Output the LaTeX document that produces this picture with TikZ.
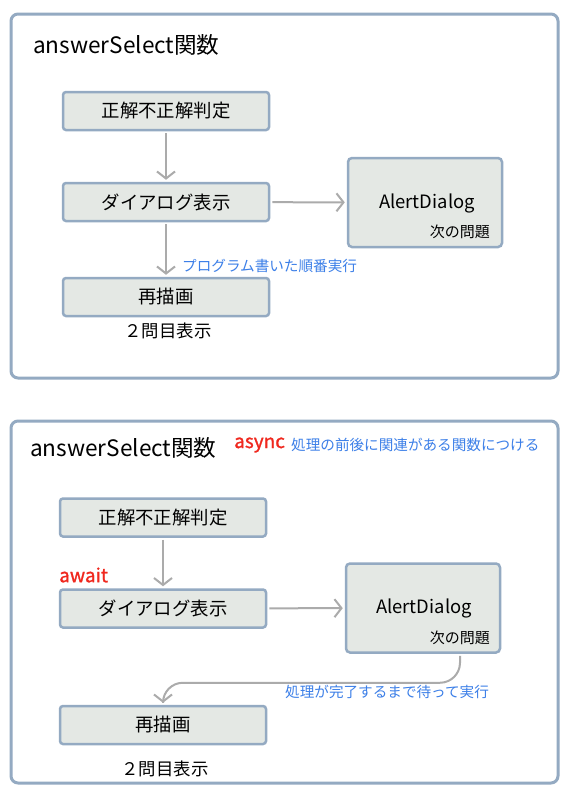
\documentclass[tikz,border=0pt]{standalone}
\usepackage{fontspec}
\setmainfont{Noto Sans CJK JP}
\newfontfamily\medfont[FakeBold=1.2]{Noto Sans CJK JP}
\usetikzlibrary{arrows.meta}
\definecolor{frameC}{HTML}{94AAC2}
\definecolor{boxF}{HTML}{E4E8E4}
\definecolor{arrC}{HTML}{ABABAB}
\definecolor{blueT}{HTML}{3C7FE8}
\definecolor{redT}{HTML}{F0281E}
\begin{document}
\begin{tikzpicture}[x=1pt,y=-1pt,
  frame/.style={draw=frameC,line width=3pt,rounded corners=7pt},
  stepbox/.style={draw=frameC,fill=boxF,line width=2.5pt,rounded corners=3pt,minimum width=206pt,minimum height=38pt,inner sep=0pt,font=\fontsize{18.4}{21}\selectfont},
  alertbox/.style={draw=frameC,fill=boxF,line width=2.5pt,rounded corners=4pt,minimum width=154pt,minimum height=89pt,inner sep=0pt},
  conn/.style={draw=arrC,line width=2pt,-{Straight Barb[length=7pt,width=18pt,line width=2pt]},shorten >=2pt,shorten <=2pt},
  title/.style={anchor=west,inner sep=0pt,font=\fontsize{22.6}{26}\selectfont},
  note/.style={anchor=west,inner sep=0pt,text=blueT,font=\fontsize{14.6}{17}\selectfont},
  redl/.style={anchor=west,inner sep=0pt,text=redT,font=\fontsize{19}{21}\medfont},
  plain/.style={inner sep=0pt,font=\fontsize{17.4}{20}\selectfont}]
\useasboundingbox (0,0) rectangle (574,796);
\fill[white] (0,0) rectangle (574,796);
% ---------- top panel ----------
\draw[frame] (11,14) rectangle (558,378);
\node[title] (t1) at (33,45) {answerSelect関数};
\node[stepbox] (a1) at (166,111) {正解不正解判定};
\node[stepbox] (a2) at (166,202) {ダイアログ表示};
\node[stepbox] (a3) at (166,297) {再描画};
\node[plain] (a4) at (168,331) {２問目表示};
\node[alertbox] (ad1) at (425,202.5) {};
\node[plain,font=\fontsize{18.4}{21}\selectfont] (ad1t) at (427,203) {AlertDialog};
\node[inner sep=0pt,anchor=east,font=\fontsize{15}{17}\selectfont] (ad1n) at (490,232) {次の問題};
\draw[conn] (a1) -- (a2);
\draw[conn] (a2) -- (ad1);
\draw[conn] (a2) -- (a3);
\node[note] (n1) at (182,266) {プログラム書いた順番実行};
% ---------- bottom panel ----------
\draw[frame] (11,421) rectangle (558,783);
\node[title] (t2) at (30,448) {answerSelect関数};
\node[redl] (as) at (234,445) {async};
\node[note] (n2) at (291,445) {処理の前後に関連がある関数につける};
\node[stepbox] (b1) at (163,517.5) {正解不正解判定};
\node[stepbox] (b2) at (163,608.5) {ダイアログ表示};
\node[stepbox] (b3) at (163,725) {再描画};
\node[plain] (b4) at (165,769) {２問目表示};
\node[redl] (aw) at (59,575) {await};
\node[alertbox] (ad2) at (423,608) {};
\node[plain,font=\fontsize{18.4}{21}\selectfont] (ad2t) at (424,608) {AlertDialog};
\node[inner sep=0pt,anchor=east,font=\fontsize{15}{17}\selectfont] (ad2n) at (490,638) {次の問題};
\draw[conn] (b1) -- (b2);
\draw[conn] (b2) -- (ad2);
\draw[conn,rounded corners=20pt] ([xshift=37pt]ad2.south) |- ([yshift=22pt]b3.north) -- (b3.north);
\node[note] (n3) at (285,692) {処理が完了するまで待って実行};
\end{tikzpicture}
\end{document}
